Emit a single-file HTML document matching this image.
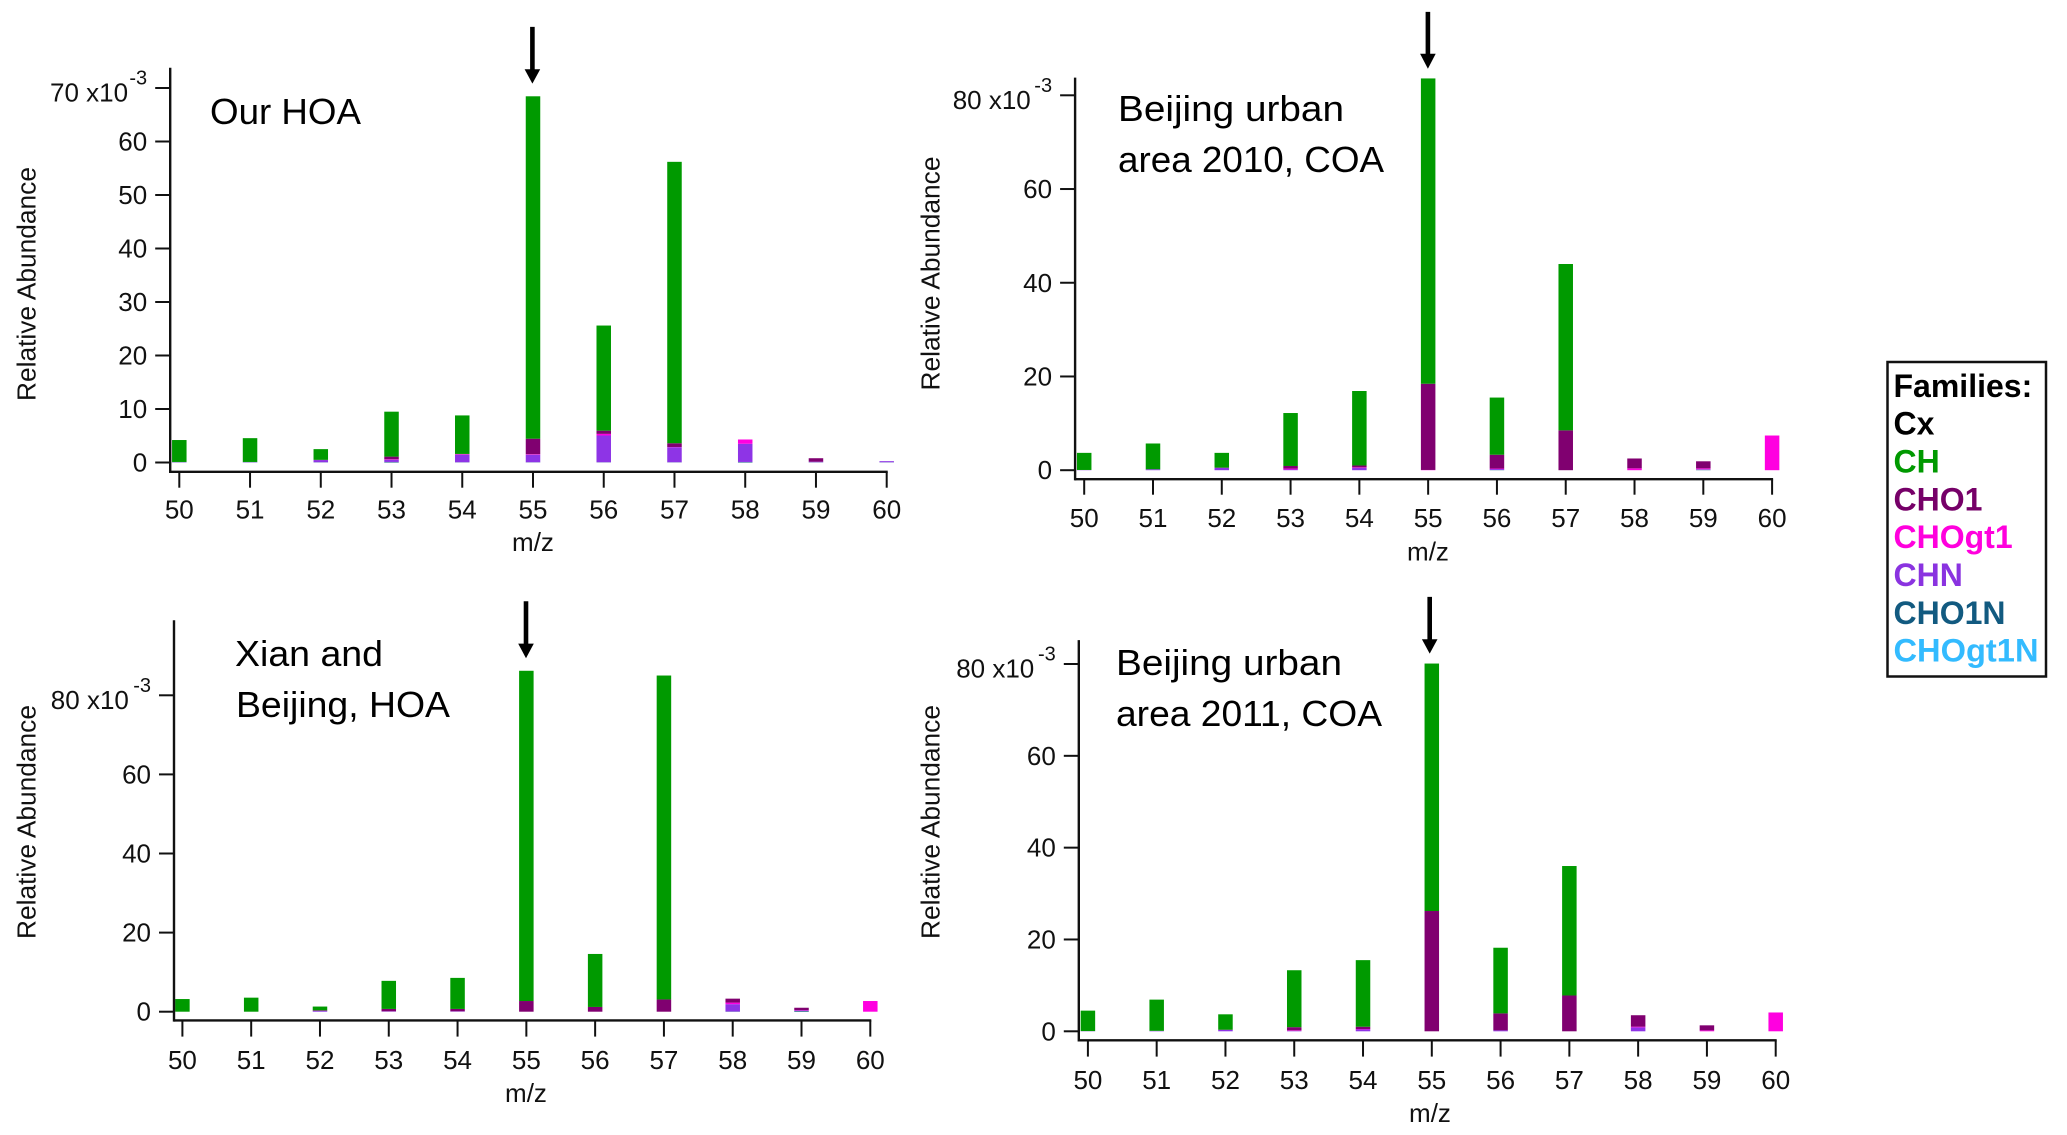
<!DOCTYPE html>
<html lang="en">
<head>
<meta charset="utf-8">
<title>Relative abundance by m/z, four source profiles</title>
<style>
  html, body { margin: 0; padding: 0; background: #fff; }
  body { width: 2067px; height: 1135px; overflow: hidden; }
  svg { display: block; font-family: "Liberation Sans", Arial, sans-serif; }
</style>
</head>
<body>
<svg id="figure" width="2067" height="1135" viewBox="0 0 2067 1135" xmlns="http://www.w3.org/2000/svg">
  <rect width="2067" height="1135" fill="#ffffff"/>

  <g font-size="36" fill="#000">
    <text x="210" y="124" textLength="151" lengthAdjust="spacingAndGlyphs">Our HOA</text>
    <text x="1118" y="121" textLength="226" lengthAdjust="spacingAndGlyphs">Beijing urban</text>
    <text x="1118" y="172" textLength="266" lengthAdjust="spacingAndGlyphs">area 2010, COA</text>
    <text x="235" y="666" textLength="148" lengthAdjust="spacingAndGlyphs">Xian and</text>
    <text x="236" y="717" textLength="214" lengthAdjust="spacingAndGlyphs">Beijing, HOA</text>
    <text x="1116" y="675" textLength="226" lengthAdjust="spacingAndGlyphs">Beijing urban</text>
    <text x="1116" y="726" textLength="266" lengthAdjust="spacingAndGlyphs">area 2011, COA</text>
  </g>

  <g font-size="26.3" fill="#111">
    <text transform="translate(35.5,284) rotate(-90)" text-anchor="middle">Relative Abundance</text>
    <text transform="translate(939.7,273.5) rotate(-90)" text-anchor="middle">Relative Abundance</text>
    <text transform="translate(35.5,822) rotate(-90)" text-anchor="middle">Relative Abundance</text>
    <text transform="translate(939.7,822) rotate(-90)" text-anchor="middle">Relative Abundance</text>
  </g>

  <g font-size="26" fill="#111" text-anchor="middle">
    <text x="533" y="551">m/z</text>
    <text x="1428" y="560.5">m/z</text>
    <text x="526" y="1102">m/z</text>
    <text x="1430" y="1122">m/z</text>
  </g>

  <g id="panels"></g>

  <g font-size="32" font-weight="bold">
    <rect x="1887.5" y="362" width="158.5" height="314.5" fill="#fff" stroke="#111" stroke-width="2.5"/>
    <text x="1893.5" y="397" fill="#000">Families:</text>
    <text x="1893.5" y="434.5" fill="#000">Cx</text>
    <text x="1893.5" y="472.5" fill="#009900">CH</text>
    <text x="1893.5" y="510.5" fill="#760068">CHO1</text>
    <text x="1893.5" y="548" fill="#ff00dd">CHOgt1</text>
    <text x="1893.5" y="586" fill="#8a33e0">CHN</text>
    <text x="1893.5" y="624" fill="#125a80">CHO1N</text>
    <text x="1893.5" y="661.5" fill="#33bbff" textLength="145" lengthAdjust="spacingAndGlyphs">CHOgt1N</text>
  </g>
</svg>

<script>
// Shared category axis
const mzCategories = [50, 51, 52, 53, 54, 55, 56, 57, 58, 59, 60];

// Tick labels
const ticksOurHoa = [0, 10, 20, 30, 40, 50, 60, 70];
const ticksEighty = [0, 20, 40, 60, 80];

// Our HOA (values x10^-3)
const ourHoaCHO1N  = [0.05, 0.05, 0.05, 0.1, 0.05, 0.05, 0.05, 0.05, 0.1, 0.05, 0.05];
const ourHoaCHN    = [0.05, 0.05, 0.4, 0.4, 1.4, 1.4, 5.0, 2.8, 3.4, 0.1, 0.2];
const ourHoaCHOgt1 = [0, 0, 0, 0.1, 0.1, 0.1, 0.3, 0.05, 0.8, 0, 0];
const ourHoaCHO1   = [0, 0, 0.05, 0.5, 0.05, 2.9, 0.6, 0.7, 0, 0.65, 0];
const ourHoaCH     = [4.1, 4.45, 2.0, 8.4, 7.2, 64.0, 19.65, 52.6, 0, 0, 0];

// Beijing urban area 2010, COA
const b2010CHO1N  = [0, 0, 0, 0, 0, 0, 0.05, 0, 0, 0.1, 0];
const b2010CHN    = [0.05, 0.2, 0.5, 0.15, 0.5, 0, 0.2, 0, 0, 0.1, 0];
const b2010CHOgt1 = [0, 0, 0, 0.2, 0.1, 0.05, 0.1, 0, 0.4, 0.2, 7.4];
const b2010CHO1   = [0, 0, 0.05, 0.55, 0.4, 18.4, 2.95, 8.5, 2.1, 1.5, 0];
const b2010CH     = [3.65, 5.5, 3.15, 11.3, 15.9, 65.15, 12.2, 35.5, 0, 0, 0];

// Xian and Beijing, HOA
const xianCHO1N  = [0, 0, 0, 0, 0, 0, 0, 0, 0.05, 0.2, 0];
const xianCHN    = [0, 0, 0.2, 0.1, 0.1, 0, 0, 0, 1.85, 0.1, 0];
const xianCHOgt1 = [0, 0, 0, 0, 0, 0, 0, 0, 0.4, 0.1, 2.7];
const xianCHO1   = [0, 0, 0.15, 0.6, 0.6, 2.7, 1.2, 3.1, 1.0, 0.6, 0];
const xianCH     = [3.2, 3.55, 0.95, 7.1, 7.85, 83.5, 13.4, 81.9, 0, 0, 0];

// Beijing urban area 2011, COA
const b2011CHO1N  = [0, 0, 0, 0, 0, 0, 0, 0, 0, 0, 0];
const b2011CHN    = [0.05, 0.1, 0.3, 0.1, 0.4, 0, 0.2, 0, 0.85, 0, 0];
const b2011CHOgt1 = [0, 0, 0, 0.1, 0.1, 0, 0, 0, 0.15, 0.2, 4.1];
const b2011CHO1   = [0, 0, 0.05, 0.7, 0.5, 26.2, 3.7, 7.8, 2.5, 1.1, 0];
const b2011CH     = [4.45, 6.8, 3.35, 12.4, 14.5, 53.9, 14.3, 28.2, 0, 0, 0];

const familyColors = { CHO1N: '#125a80', CHN: '#8e34e6', CHOgt1: '#ff00e0', CHO1: '#800070', CH: '#009a00' };
const stackOrder = ['CHO1N', 'CHN', 'CHOgt1', 'CHO1', 'CH'];

const panels = [
  { id: 'our-hoa', axisX: 170.2, axisY: 471.8, topY: 67.7, x0: 179.3, x1: 886.7, zeroY: 462.5, maxY: 88, ticks: ticksOurHoa,
    tickEnd: 487.7, labelY: 518.5, unit: '70', unitX: 50, arrow: [26.9, 69.2, 83.6], arrowX: 532.4,
    series: { CHO1N: ourHoaCHO1N, CHN: ourHoaCHN, CHOgt1: ourHoaCHOgt1, CHO1: ourHoaCHO1, CH: ourHoaCH } },
  { id: 'beijing-2010', axisX: 1075.1, axisY: 479.2, topY: 77.6, x0: 1084.2, x1: 1772.1, zeroY: 470.2, maxY: 95.3, ticks: ticksEighty,
    tickEnd: 494.7, labelY: 527, unit: '80', unitX: 952.7, arrow: [11.9, 53.7, 68.7], arrowX: 1427.9,
    series: { CHO1N: b2010CHO1N, CHN: b2010CHN, CHOgt1: b2010CHOgt1, CHO1: b2010CHO1, CH: b2010CH } },
  { id: 'xian-beijing', axisX: 174, axisY: 1020.4, topY: 620.2, x0: 182.4, x1: 870.3, zeroY: 1011.7, maxY: 695.3, ticks: ticksEighty,
    tickEnd: 1036.6, labelY: 1069, unit: '80', unitX: 50.8, arrow: [601.3, 643.6, 658.3], arrowX: 526,
    series: { CHO1N: xianCHO1N, CHN: xianCHN, CHOgt1: xianCHOgt1, CHO1: xianCHO1, CH: xianCH } },
  { id: 'beijing-2011', axisX: 1078.8, axisY: 1040.3, topY: 640.1, x0: 1087.9, x1: 1775.7, zeroY: 1031.3, maxY: 664, ticks: ticksEighty,
    tickEnd: 1056.6, labelY: 1089, unit: '80', unitX: 956.2, arrow: [596.9, 639.2, 653.6], arrowX: 1429.7,
    series: { CHO1N: b2011CHO1N, CHN: b2011CHN, CHOgt1: b2011CHOgt1, CHO1: b2011CHO1, CH: b2011CH } }
];

const SVG_NS = 'http://www.w3.org/2000/svg';
const root = document.getElementById('panels');

function make(tag, attrs, parent) {
  const el = document.createElementNS(SVG_NS, tag);
  for (const k in attrs) el.setAttribute(k, attrs[k]);
  parent.appendChild(el);
  return el;
}

function drawPanel(p) {
  const g = make('g', {}, root);
  
  

  const maxTick = p.ticks[p.ticks.length - 1];
  const xScale = function (mz) {
    const first = mzCategories[0];
    const last = mzCategories[mzCategories.length - 1];
    return p.x0 + (mz - first) * (p.x1 - p.x0) / (last - first);
  };
  const yScale = function (v) {
    return p.zeroY - v * (p.zeroY - p.maxY) / maxTick;
  };

  // Bars
  const barWidth = 14.5;
  mzCategories.forEach(function (mz, i) {
    let base = 0;
    stackOrder.forEach(function (family) {
      const v = p.series[family][i];
      if (v > 0) {
        const rect = make('rect', {
          x: xScale(mz) - barWidth / 2,
          y: yScale(base + v),
          width: barWidth,
          height: yScale(base) - yScale(base + v),
          fill: familyColors[family]
        }, g);
        
        
      }
      base += v;
    });
  });

  // Axes
  const yAxis = make('line', { x1: p.axisX, x2: p.axisX, y1: p.topY, y2: p.axisY + 1.2, stroke: '#111', 'stroke-width': 2.4 }, g);
  
  
  const xAxis = make('line', { x1: p.axisX, x2: p.x1 + 1, y1: p.axisY, y2: p.axisY, stroke: '#111', 'stroke-width': 2.4 }, g);
  
  

  // X ticks and labels
  mzCategories.forEach(function (mz) {
    const x = xScale(mz);
    const tick = make('line', { x1: x, x2: x, y1: p.axisY, y2: p.tickEnd, stroke: '#111', 'stroke-width': 2 }, g);
    
    
    const label = make('text', { x: x, y: p.labelY, 'font-size': 26, fill: '#111', 'text-anchor': 'middle' }, g);
    
    
    label.textContent = String(mz);
  });

  // Y ticks and labels
  p.ticks.forEach(function (t) {
    const y = yScale(t);
    const tick = make('line', { x1: p.axisX - 15, x2: p.axisX, y1: y, y2: y, stroke: '#111', 'stroke-width': 2 }, g);
    
    
    if (t === maxTick) {
      const main = make('text', { x: p.unitX, y: y + 13.5, 'font-size': 26, fill: '#111' }, g);
      
      
      main.textContent = t + ' x10';
      const sup = make('text', { x: p.axisX - 23, y: y - 3.5, 'font-size': 20, fill: '#111', 'text-anchor': 'end' }, g);
      
      
      sup.textContent = '-3';
    } else {
      const label = make('text', { x: p.axisX - 23, y: y + 9, 'font-size': 26, fill: '#111', 'text-anchor': 'end' }, g);
      
      
      label.textContent = String(t);
    }
  });

  // Annotation arrow at m/z 55
  const arrow = make('g', {}, g);
  
  
  make('line', { x1: p.arrowX, x2: p.arrowX, y1: p.arrow[0], y2: p.arrow[1] + 1, stroke: '#000', 'stroke-width': 4.6 }, arrow);
  make('polygon', { points: (p.arrowX - 7.8) + ',' + p.arrow[1] + ' ' + (p.arrowX + 7.8) + ',' + p.arrow[1] + ' ' + p.arrowX + ',' + p.arrow[2], fill: '#000' }, arrow);
}

panels.forEach(drawPanel);
</script>
</body>
</html>
